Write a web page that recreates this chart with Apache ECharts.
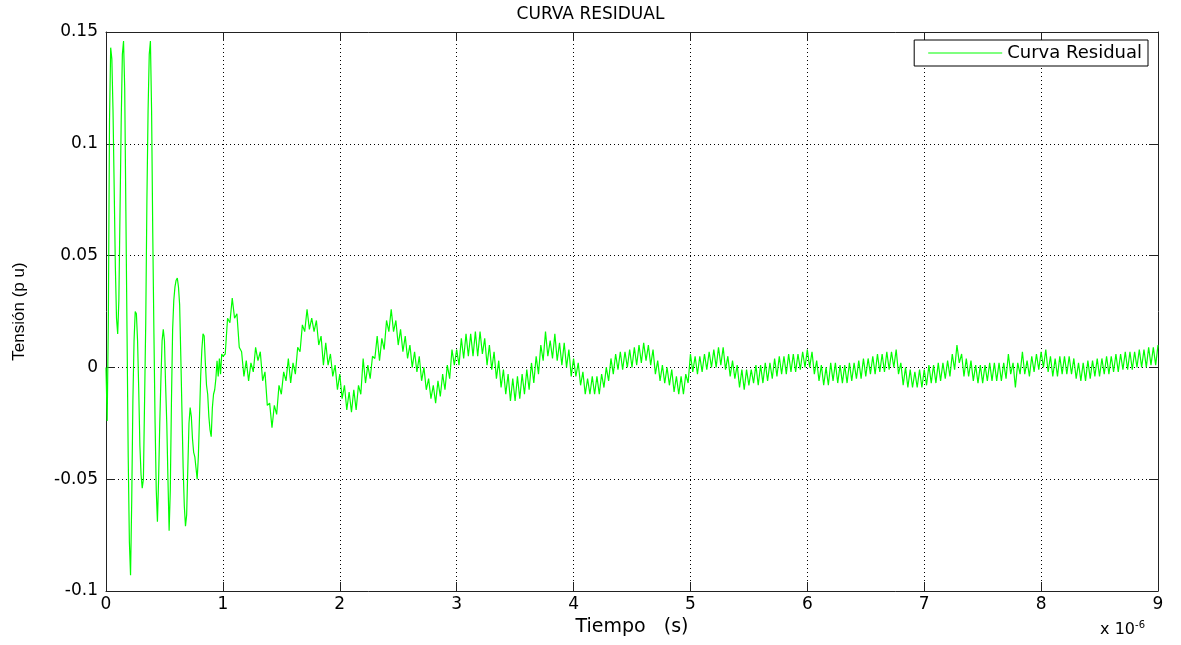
<!DOCTYPE html>
<html>
<head>
<meta charset="utf-8">
<script src="https://cdn.jsdelivr.net/npm/echarts@6/dist/echarts.min.js"></script>
<style>
  html, body { margin: 0; padding: 0; background: #fff; }
  #chart { width: 1181px; height: 645px; }
</style>
</head>
<body>
<div id="chart"></div>
<script>
// Residual voltage curve, values in units of 0.001 p.u.
// Early transient: samples every 0.01 µs from t = 0.00 µs to 0.99 µs
const earlyStep = 0.01;
const residualEarly = [
  0, -24, 20, 110, 143, 138, 115, 80, 45, 22,
  15, 30, 70, 110, 140, 146, 125, 70, 15, -40,
  -78, -93, -60, -15, 12, 25, 24, 12, -10, -35,
  -48, -54, -50, -15, 20, 75, 115, 140, 146, 115,
  60, 15, -25, -55, -69, -50, -25, -5, 12, 17,
  12, -8, -25, -50, -73, -55, -15, 17, 30, 36,
  39, 40, 36, 28, 5, -20, -45, -62, -71, -66,
  -45, -25, -18, -22, -32, -38, -40, -45, -50, -40,
  -22, -4, 8, 15, 14, 2, -8, -12, -22, -28,
  -31, -18, -12, -10, -5, 3, -4, 4, -3, 6
];

// Tail: samples every 0.02 µs from t = 1.00 µs to 9.00 µs
const lateStart = 1.0;
const lateStep = 0.02;
const residualLate = [
  // 1 µs
  5, 6, 22, 20, 31, 22, 24, 9, 7, -4, 3, -6, 2, -2, 9, 3, 7, -6, -2, -17,
  -16, -27, -17, -21, -8, -12, -2, -6, 4, -7, 2, -3, 9, 7, 19, 16, 26, 17, 22, 16,
  21, 10, 14, 1, 11, 1, 6, -4, 1, -10,
  // 2 µs
  -3, -14, -8, -19, -11, -20, -10, -19, -8, -12, 4, -7, 1, -5, 5, 4, 14, 3, 13, 8,
  21, 16, 26, 16, 21, 10, 17, 7, 14, 4, 10, 0, 7, -2, 5, -6, 0, -10, -5, -14,
  -8, -16, -6, -13, -3, -10, 1, -5, 8, 1,
  // 3 µs
  8, 1, 13, 4, 15, 5, 15, 5, 16, 5, 16, 6, 13, 1, 10, -1, 7, -5, 3, -9,
  -1, -12, -3, -15, -5, -15, -4, -14, -3, -12, -1, -10, 2, -7, 5, -3, 10, 3, 16, 5,
  12, 4, 15, 3, 11, 1, 11, 0, 8, -4,
  // 4 µs
  4, -4, 2, -8, -2, -12, -5, -12, -4, -12, -4, -12, -3, -9, 0, -6, 4, -3, 6, -1,
  7, -1, 7, 0, 8, 0, 9, 1, 10, 2, 11, 3, 10, 1, 8, -3, 3, -6, 1, -7,
  0, -8, -1, -11, -4, -12, -4, -12, -3, -7,
  // 5 µs
  6, -2, 5, -3, 5, -2, 6, -1, 7, 0, 8, 0, 9, 1, 9, -1, 5, -4, 3, -5,
  1, -9, -1, -10, -1, -8, -1, -7, 1, -8, 1, -7, 2, -6, 2, -5, 4, -4, 5, -3,
  5, -3, 6, -2, 6, -2, 6, -1, 7, 0,
  // 6 µs
  8, 0, 7, -3, 3, -6, 1, -8, 0, -8, 2, -6, 2, -7, 1, -7, 1, -7, 2, -6,
  2, -5, 3, -5, 4, -4, 4, -3, 5, -3, 6, -2, 6, -2, 7, -1, 7, 0, 8, -3,
  2, -8, 0, -9, -1, -9, -2, -9, -1, -9,
  // 7 µs
  -1, -8, 1, -7, 1, -7, 2, -6, 2, -5, 3, -4, 6, -1, 10, 2, 6, -4, 4, -4,
  3, -6, 1, -7, 1, -7, 1, -6, 2, -6, 2, -6, 2, -6, 2, -5, 6, -3, 2, -9,
  2, -3, 7, -3, 3, -4, 5, -2, 6, -1,
  // 8 µs to 9 µs
  7, 0, 8, -2, 5, -4, 4, -4, 5, -3, 5, -3, 5, -3, 4, -5, 2, -6, 2, -6,
  3, -5, 3, -4, 4, -4, 4, -3, 5, -3, 5, -2, 6, -2, 6, -1, 7, -1, 7, -1,
  7, 0, 8, 0, 8, 0, 9, 1, 9, 1,
  10
];

const seriesName = 'Curva Residual';
const titleText = 'CURVA RESIDUAL';
const xName = 'Tiempo   (s)';
const yName = 'Tensión (p u)';

// [time in µs, voltage in p.u.]
const points = [];
residualEarly.forEach((v, i) => points.push([+(i * earlyStep).toFixed(2), v / 1000]));
residualLate.forEach((v, i) => points.push([+(lateStart + i * lateStep).toFixed(2), v / 1000]));

const FONT = 'DejaVu Sans';
const axisColor = '#222';
const axisLine = { show: true, onZero: false, lineStyle: { color: axisColor, width: 1 } };
const axisTick = { show: true, inside: true, length: 9, lineStyle: { color: axisColor, width: 1 } };
const gridDots = { show: true, lineStyle: { color: '#000', width: 1, type: [1, 3] } };

const chart = echarts.init(document.getElementById('chart'), null, { renderer: 'canvas' });

chart.setOption({
  animation: false,
  backgroundColor: '#fff',
  title: {
    text: titleText,
    left: 'center',
    top: 6,
    padding: [0, 0, 0, 84],
    textStyle: { fontFamily: FONT, fontSize: 17, fontWeight: 'normal', color: '#000' }
  },
  legend: {
    data: [{ name: seriesName, icon: 'rect' }],
    right: 33,
    top: 40,
    itemWidth: 74,
    itemHeight: 1,
    padding: [4, 6, 4, 14],
    borderColor: '#000',
    borderWidth: 1,
    borderRadius: 0,
    backgroundColor: '#fff',
    selectedMode: false,
    textStyle: { fontFamily: FONT, fontSize: 18, color: '#000' }
  },
  grid: { left: 106, right: 23, top: 32, bottom: 54, show: false },
  xAxis: [
    {
      type: 'value', min: 0, max: 9, interval: 1, position: 'bottom',
      axisLine, axisTick,
      axisLabel: { color: '#000', fontFamily: FONT, fontSize: 17, margin: 5 },
      splitLine: gridDots,
      name: xName, nameLocation: 'middle', nameGap: 26,
      nameTextStyle: { color: '#000', fontFamily: FONT, fontSize: 19 }
    },
    {
      type: 'value', min: 0, max: 9, interval: 1, position: 'top',
      axisLine, axisTick, axisLabel: { show: false }, splitLine: { show: false }
    }
  ],
  yAxis: [
    {
      type: 'value', min: -0.1, max: 0.15, interval: 0.05, position: 'left',
      axisLine, axisTick,
      axisLabel: {
        color: '#000', fontFamily: FONT, fontSize: 17, margin: 8,
        formatter: v => String(+v.toFixed(2))
      },
      splitLine: gridDots,
      name: yName, nameLocation: 'middle', nameGap: 78, nameRotate: 90,
      nameTextStyle: { color: '#000', fontFamily: 'Liberation Sans', fontSize: 17 }
    },
    {
      type: 'value', min: -0.1, max: 0.15, interval: 0.05, position: 'right',
      axisLine, axisTick, axisLabel: { show: false }, splitLine: { show: false }
    }
  ],
  series: [
    {
      type: 'line',
      name: seriesName,
      data: points,
      symbol: 'none',
      showSymbol: false,
      lineStyle: { color: '#00ff00', width: 1.2 },
      itemStyle: { color: '#00ff00' },
      z: 3
    }
  ],
  graphic: [
    {
      type: 'text',
      right: 36,
      top: 620,
      style: {
        text: 'x 10{sup|-6}',
        fill: '#000',
        font: '16px "DejaVu Sans"',
        rich: {
          sup: { fontSize: 10, fontFamily: FONT, fill: '#000', padding: [0, 0, 9, 0] }
        }
      }
    }
  ]
});
</script>
</body>
</html>
